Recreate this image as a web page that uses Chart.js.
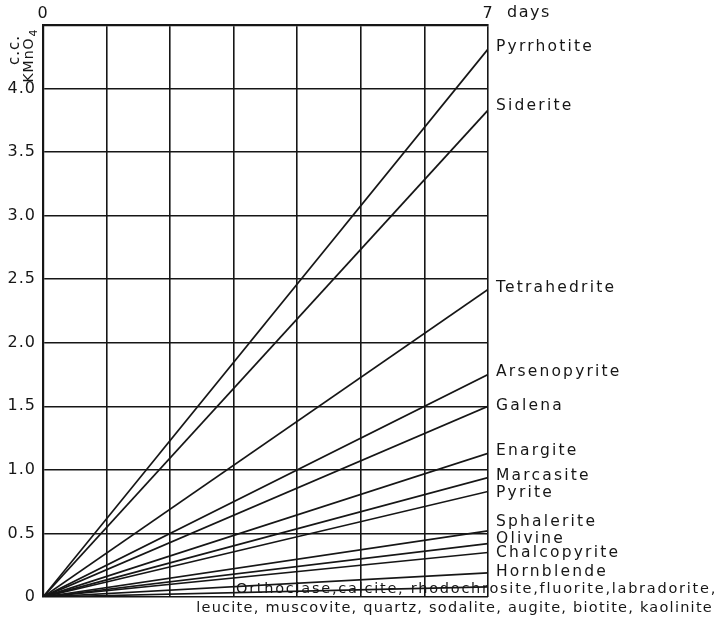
<!DOCTYPE html>
<html><head><meta charset="utf-8">
<script src="https://cdn.jsdelivr.net/npm/chart.js@4"></script>
<style>html,body{margin:0;padding:0;background:#fff}#wrap{width:720px;height:620px}</style>
</head><body><div id="wrap"><canvas id="c" width="720" height="620"></canvas></div>
<script>
// ---- data ----
const minerals = ['Pyrrhotite','Siderite','Tetrahedrite','Arsenopyrite','Galena','Enargite','Marcasite','Pyrite','Sphalerite','Olivine','Chalcopyrite','Hornblende','Orthoclase group'];
const days = [0, 7];
const valuesAtDay0 = [0,0,0,0,0,0,0,0,0,0,0,0,0];
const valuesAtDay7 = [4.31,3.83,2.42,1.75,1.50,1.13,0.94,0.83,0.52,0.42,0.35,0.19,0.08];
const labelLevels = [4.33,3.86,2.43,1.77,1.50,1.15,0.95,0.82,0.59,0.46,0.35,0.20,null];
const groupText = ['Orthoclase,calcite, rhodochrosite,fluorite,labradorite,',
                   'leucite, muscovite, quartz, sodalite, augite, biotite, kaolinite'];
const yTickLabels = ['0','0.5','1.0','1.5','2.0','2.5','3.0','3.5','4.0'];
const xTickLabels = {0:'0', 7:'7'};
const xUnit = 'days';
const yUnitTop = 'c.c.';
const yUnitMain = 'KMnO';
const yUnitSub = '4';

const INK = '#161616';
const FONT = '"DejaVu Sans", sans-serif';

const datasets = minerals.map((m, i) => ({
  label: m,
  data: days.map((d, j) => ({x: d, y: j === 0 ? valuesAtDay0[i] : valuesAtDay7[i]})),
  borderColor: INK, borderWidth: 1.7, pointRadius: 0, fill: false, tension: 0
}));

const annot = {
  id: 'annot',
  beforeDraw(chart) { chart.ctx.letterSpacing = '1px'; },
  afterDraw(chart) {
    const ctx = chart.ctx, ca = chart.chartArea, ys = chart.scales.y, xs = chart.scales.x;
    ctx.save();
    ctx.fillStyle = INK;
    ctx.textBaseline = 'middle';
    ctx.textAlign = 'left';
    ctx.letterSpacing = '2.2px';
    ctx.font = '15.5px ' + FONT;
    minerals.forEach((m, i) => {
      if (labelLevels[i] == null) return;
      ctx.fillText(m, ca.right + 8, ys.getPixelForValue(labelLevels[i]));
    });
    // days
    ctx.letterSpacing = '1.5px';
    ctx.font = '16px ' + FONT;
    ctx.fillText(xUnit, xs.getPixelForValue(7) + 19, 13);
    // group text
    ctx.font = '14.5px ' + FONT;
    ctx.textAlign = 'right';
    ctx.letterSpacing = '1.75px';
    ctx.fillText(groupText[0], 717, 589);
    ctx.letterSpacing = '1.25px';
    ctx.fillText(groupText[1], 713, 608);
    // y unit rotated
    ctx.textAlign = 'center';
    ctx.letterSpacing = '1px';
    ctx.save();
    ctx.translate(15, 50);
    ctx.rotate(-Math.PI / 2);
    ctx.font = '15px ' + FONT;
    ctx.fillText(yUnitTop, 0, 0);
    ctx.restore();
    ctx.save();
    ctx.translate(29, 56);
    ctx.rotate(-Math.PI / 2);
    ctx.font = '14px ' + FONT;
    const w = ctx.measureText(yUnitMain).width;
    ctx.textAlign = 'left';
    ctx.fillText(yUnitMain, -w / 2 - 4, 0);
    ctx.font = '11px ' + FONT;
    ctx.fillText(yUnitSub, w / 2 - 3, 5);
    ctx.restore();
    ctx.restore();
  }
};

new Chart(document.getElementById('c'), {
  type: 'line',
  data: { datasets },
  plugins: [annot],
  options: {
    responsive: false, animation: false,
    layout: { padding: { left: 0, right: 232, top: 0, bottom: 23 } },
    plugins: { legend: { display: false }, tooltip: { enabled: false } },
    scales: {
      x: {
        type: 'linear', position: 'top', min: 0, max: 7,
        afterFit(s) { s.height = 25; },
        ticks: { stepSize: 1, color: INK, font: { size: 16, family: FONT }, padding: 2, maxRotation: 0,
                 callback: v => xTickLabels[v] !== undefined ? xTickLabels[v] : '' },
        grid: { color: INK, lineWidth: 1.6, drawTicks: false },
        border: { color: INK, width: 2.2 }
      },
      y: {
        type: 'linear', min: 0, max: 4.5,
        afterFit(s) { s.width = 43; },
        ticks: { stepSize: 0.5, color: INK, font: { size: 16, family: FONT }, padding: 7,
                 callback: (v) => { const k = Math.round(v * 2); return k < yTickLabels.length ? yTickLabels[k] : ''; } },
        grid: { color: INK, lineWidth: 1.6, drawTicks: false },
        border: { color: INK, width: 2.2 }
      }
    }
  }
});
</script></body></html>
